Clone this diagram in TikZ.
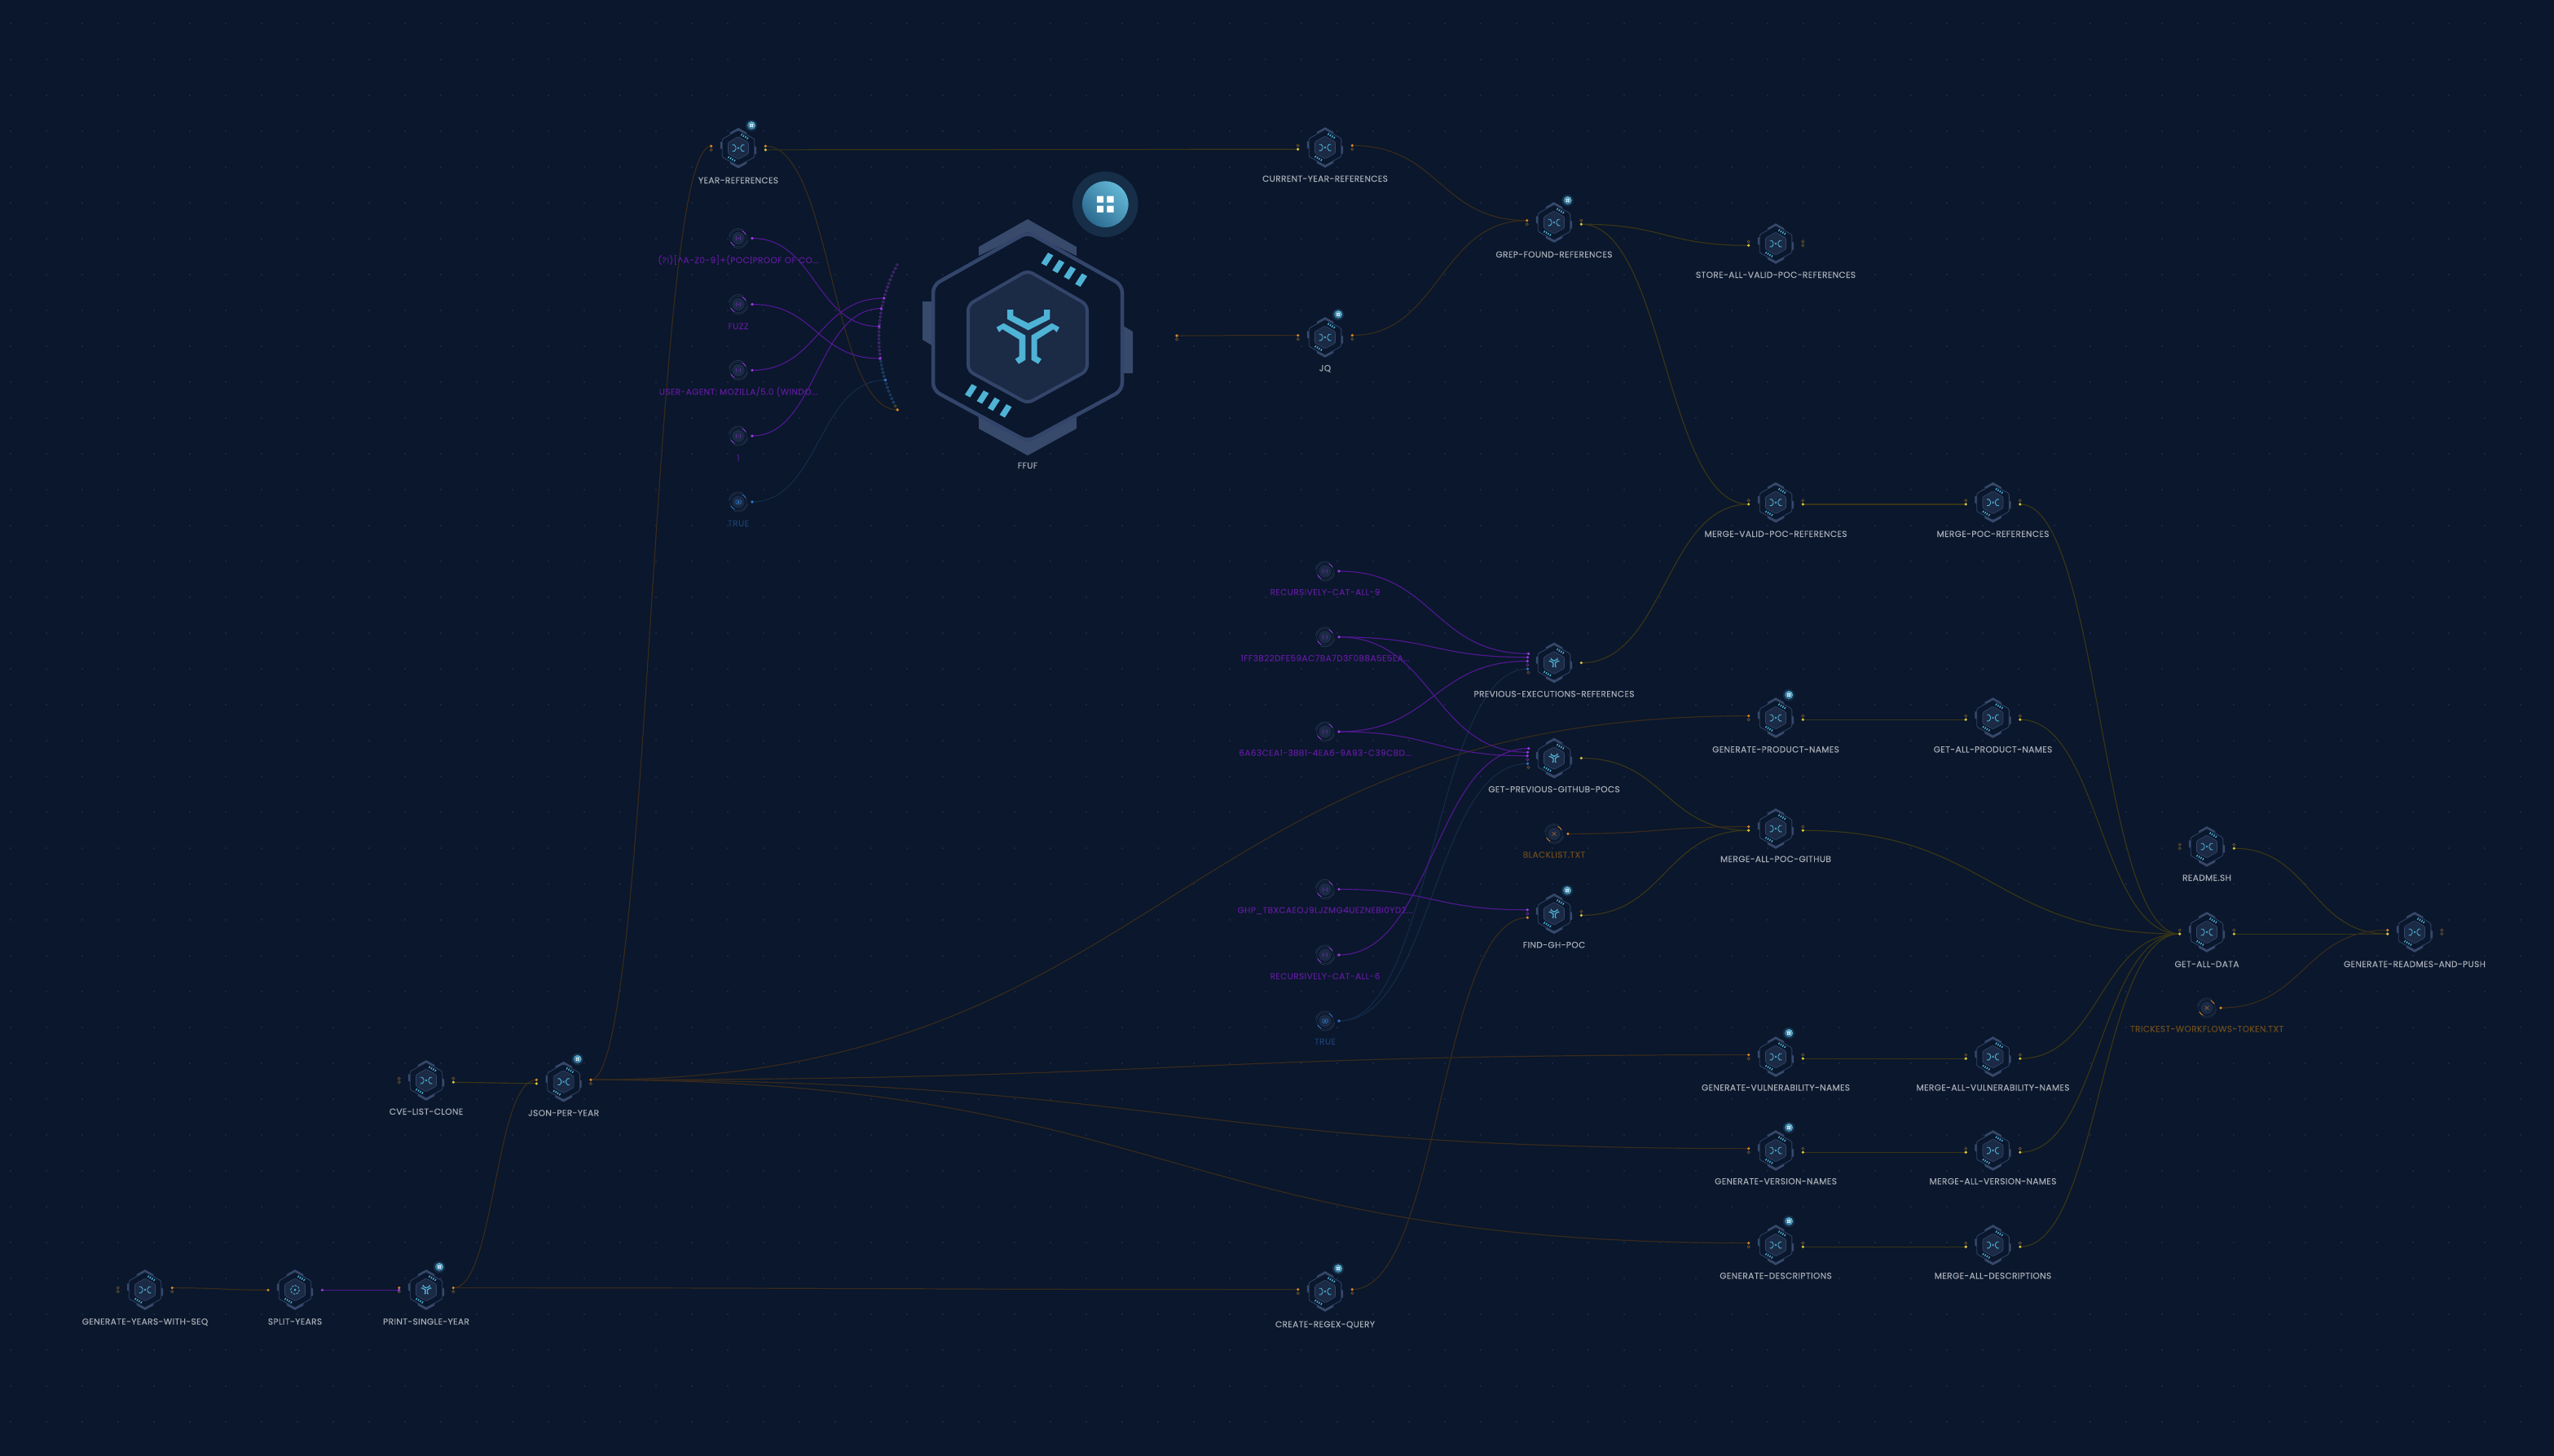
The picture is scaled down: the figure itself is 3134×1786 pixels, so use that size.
\documentclass[tikz,border=0pt]{standalone}
\usepackage{fontspec}
\setmainfont[LetterSpace=3.5,FakeBold=0.12]{Poppins}
\usetikzlibrary{calc}
\pgfdeclarelayer{edges}
\pgfsetlayers{edges,main}
\definecolor{bgc}{HTML}{0A172C}
\definecolor{gridc}{HTML}{1F2E4B}
\definecolor{hexc}{HTML}{33456A}
\definecolor{capc}{HTML}{384A6B}
\definecolor{innerc}{HTML}{1B2A45}
\definecolor{accent}{HTML}{4FB3D6}
\definecolor{edgeO}{HTML}{382A1C}
\definecolor{edgeY}{HTML}{383516}
\definecolor{edgeP}{HTML}{501890}
\definecolor{edgeB}{HTML}{142A47}
\definecolor{pO}{HTML}{D8862A}
\definecolor{pY}{HTML}{D9C53A}
\definecolor{pP}{HTML}{9A3BE0}
\definecolor{pB}{HTML}{2D78C8}
\definecolor{poD}{HTML}{6B5130}
\definecolor{pyD}{HTML}{5E5626}
\definecolor{ppD}{HTML}{5D2F8C}
\definecolor{pbD}{HTML}{24507F}
\definecolor{lblc}{HTML}{A7ACB6}
\definecolor{lblP}{HTML}{5C1A99}
\definecolor{lblB}{HTML}{1C3F6E}
\definecolor{lblO}{HTML}{6B4A1C}
\definecolor{badgeA}{HTML}{62B7D6}
\definecolor{badgeB}{HTML}{2C6A90}
\definecolor{haloc}{HTML}{162E48}
\definecolor{ringc}{HTML}{26354F}
\tikzset{
 eo/.style={draw=edgeO,line width=1.2pt},
 ey/.style={draw=edgeY,line width=1.2pt},
 ep/.style={draw=edgeP,line width=1.15pt},
 eb/.style={draw=edgeB,line width=1.2pt},
 portbase/.style={circle,inner sep=0pt},
 portO/.style={portbase,fill=pO,minimum size=3.6pt},
 portY/.style={portbase,fill=pY,minimum size=3.6pt},
 portP/.style={portbase,fill=pP,minimum size=3.6pt},
 portB/.style={portbase,fill=pB,minimum size=3.6pt},
 porto/.style={portbase,draw=poD,line width=.7pt,minimum size=3.2pt},
 porty/.style={portbase,draw=pyD,line width=.7pt,minimum size=3.2pt},
 portp/.style={portbase,draw=ppD,line width=.7pt,minimum size=3.2pt},
 portb/.style={portbase,draw=pbD,line width=.7pt,minimum size=3.2pt},
 lbl/.style={anchor=base,inner sep=0pt,font=\fontsize{10.6}{12}\selectfont,text=lblc},
 hexhit/.style={circle,inner sep=0pt,minimum size=44pt},
 circhit/.style={circle,inner sep=0pt,minimum size=24pt},
}
\newcommand{\dashq}[2]{\fill[accent,shift={(#1,#2)}] (7.4,-4.8)--(1,-8.2)--(-7.4,4.8)--(-1,8.2)--cycle;}
\newcommand{\hexbody}[5]{\begin{scope}[scale=#1]
 \fill[capc] (-60,-100)--(-60,-111)--(0,-145)--(60,-111)--(60,-100)--(0,-129)--cycle;
 \fill[capc] (-60,98)--(-60,112)--(0,145)--(60,112)--(60,98)--(0,127)--cycle;
 \fill[capc] (114,-16)--(129,-7)--(129,44)--(114,44)--cycle;
 \fill[capc] (-114,-44)--(-129,-44)--(-129,3)--(-114,12)--cycle;
 \draw[hexc,line width=#2,rounded corners=#4,fill=bgc] (0,-129)--(116,-64)--(116,65)--(0,128)--(-116,65)--(-116,-64)--cycle;
 \draw[hexc,line width=#3,rounded corners=#5,fill=innerc] (0,-82)--(73,-40)--(73,41)--(0,81)--(-73,41)--(-73,-40)--cycle;
 \dashq{24}{-95.7}\dashq{37.7}{-87}\dashq{51.7}{-79}\dashq{65.7}{-70.3}
 \dashq{-69.6}{65.5}\dashq{-55}{73.4}\dashq{-41.5}{82}\dashq{-27}{90.3}
\end{scope}}
\newcommand{\iconY}[1]{\begin{scope}[scale=#1]
 \fill[accent] (-25,-34)--(-17.7,-34)--(-17.7,-26.7)--(0.7,-17.3)--(20,-26.7)--(20,-34)--(27.3,-34)--(27.3,-22.3)--(0.7,-8.7)--(-25,-22.3)--cycle;
 \fill[accent] (-38.3,-12.3)--(-29.3,-17.3)--(-2.7,-2.3)--(-2.7,27.7)--(-11,32.7)--(-15.3,26.7)--(-10.3,23.3)--(-10.3,2.7)--(-31,-10)--(-35,-6.3)--cycle;
 \fill[accent] (39,-12.3)--(29.7,-17.3)--(4.7,-2.3)--(4.7,27.7)--(13,32.7)--(17,26.7)--(11.7,23.3)--(11.7,2.7)--(31.7,-10)--(35.7,-6.3)--cycle;
\end{scope}}
\newcommand{\iconX}{%
 \draw[accent,line width=.9pt] (-7.3,-3.8)--(-4.8,-3.8)--(-3,-1.2)--(-3,1.2)--(-4.8,3.8)--(-7.3,3.8);
 \draw[accent,line width=.9pt] (7.3,-3.8)--(4.8,-3.8)--(3,-1.2)--(3,1.2)--(4.8,3.8)--(7.3,3.8);
 \draw[accent,line width=.5pt] (-1.1,-1.1)--(1.1,1.1) (-1.1,1.1)--(1.1,-1.1);}
\newcommand{\iconS}{%
 \draw[accent,line width=.9pt,dash pattern=on 2.6pt off 1.5pt] (0,0) circle (5.4);
 \fill[accent] (0,0) circle (1.5);}
\newcommand{\iconYs}{\iconY{.171}}
\newcommand{\task}[6]{\def\cx{#2}\def\cy{#3}%
 \node[hexhit] (#1) at (#2,#3) {};
 \begin{scope}[shift={(#2,#3)}]
  \hexbody{.171}{.8pt}{.65pt}{1.5pt}{1.2pt}
  #4
 \end{scope}
 \node[lbl] (#1-label) at (#2,#6+4) {#5};}
\newcommand{\tports}[5]{%
 \node[port#2] (#1-lt) at (\cx-33.3,\cy-2.4) {};
 \node[port#3] (#1-lb) at (\cx-33.3,\cy+2.2) {};
 \node[port#4] (#1-rt) at (\cx+33.3,\cy-2.4) {};
 \node[port#5] (#1-rb) at (\cx+33.3,\cy+2.2) {};}
\newcommand{\badge}[3]{\begin{scope}[shift={(#1,#2)},scale=#3]
 \fill[haloc] (0,0) circle (40.3);
 \shade[left color=badgeA,right color=badgeB,shading angle=-45] (0,0) circle (28.3);
 \fill[white] (-10.3,-10) rectangle (-2.3,-2) (2,-10) rectangle (10.3,-2) (-10.3,2) rectangle (-2.3,10) (2,2) rectangle (10.3,10);
\end{scope}}
\newcommand{\smallbadge}[2]{\badge{#1}{#2}{.18}}
\newcommand{\glyphP}{\draw[pP!70!bgc,line width=.6pt] (-2,-2.6) to[bend right=45] (-2,2.6) (2,-2.6) to[bend left=45] (2,2.6) (-1,0)--(1,0);}
\newcommand{\glyphO}{\draw[pO!65!bgc,line width=.7pt] (-2.3,-2.3)--(2.3,2.3) (-2.3,2.3)--(2.3,-2.3);}
\newcommand{\glyphB}{\draw[pB,line width=.6pt,rounded corners=1pt] (-3.2,-2.2) rectangle (3.2,2.2); \draw[pB,line width=.6pt] (0,0) circle (1.1);}
\newcommand{\inode}[8]{%
 \node[circhit] (#1) at (#2,#3) {};
 \begin{scope}[shift={(#2,#3)}]
  \draw[ringc,line width=.7pt] (-60:12) arc[start angle=-60,end angle=-170,radius=12];
  \draw[ringc,line width=.7pt] (120:12) arc[start angle=120,end angle=10,radius=12];
  \draw[ringc,line width=.6pt] (0,0) circle (10.3);
  \fill[innerc] (0,0) circle (7.8);
  \draw[p#4,line width=.9pt] (-28:10.3) arc[start angle=-28,end angle=-62,radius=10.3];
  \draw[p#4,line width=.9pt] (152:10.3) arc[start angle=152,end angle=118,radius=10.3];
  #5
 \end{scope}
 \node[lbl,text=#7] (#1-label) at (#2,#8+4) {#6};
 \node[port#4] (#1-r) at (#2+17,#3) {};}
\newcommand{\edge}[3]{\begin{pgfonlayer}{edges}\draw[#3] let \p1=(#1.center),\p2=(#2.center),\n1={(\x1+\x2)/2} in (\p1) .. controls (\n1,\y1) and (\n1,\y2) .. (\p2);\end{pgfonlayer}}
\begin{document}
\begin{tikzpicture}[x=1pt,y=-1pt]
\useasboundingbox (0,0) rectangle (3134,1786);
\begin{pgfonlayer}{edges}
\fill[bgc] (-3,-3) rectangle (3137,1789);
\fill[gridc] \foreach \i in {0,...,71}{\foreach \j in {0,...,40}{(13+44*\i,29+44*\j) circle (1.1)}};
\end{pgfonlayer}
\node[circle,inner sep=0pt,minimum size=260pt] (ffuf) at (1261,414) {};
\begin{scope}[shift={(1261,414)}]
 \hexbody{1}{4.5pt}{4pt}{9pt}{7pt}
 \iconY{1}
\end{scope}
\node[lbl] (ffuf-label) at (1261,575) {FFUF};
\badge{1356.3}{250.7}{1}
\foreach \i in {0,...,39}{
 \pgfmathsetmacro{\py}{325+\i*4.56}
 \pgfmathsetmacro{\px}{1265.5-187*sqrt(1-((\py-414)/187)^2)}
 \ifnum\i<26 \def\ringcol{ppD}\else\ifnum\i<38 \def\ringcol{pbD}\else\def\ringcol{poD}\fi\fi
 \draw[\ringcol,line width=.6pt] (\px,\py) circle (1.5);
}
\node[portP] (ffuf-a) at (1084.8,366) {};
\node[portP] (ffuf-b) at (1081.3,378.6) {};
\node[portP] (ffuf-c) at (1078.8,400.7) {};
\node[portP] (ffuf-d) at (1080,440) {};
\node[portB] (ffuf-e) at (1086.6,466.4) {};
\node[portO] (ffuf-f) at (1101.4,503) {};
\node[portO] (ffuf-r) at (1444,412) {};
\node[porto] at (1444,416.5) {};
\task{year}{906}{181.7}{\iconX}{YEAR-REFERENCES}{221}\tports{year}{O}{o}{O}{Y}
\smallbadge{922}{154}
\task{cur}{1626}{181}{\iconX}{CURRENT-YEAR-REFERENCES}{219}\tports{cur}{o}{Y}{O}{y}
\task{jq}{1626}{414}{\iconX}{JQ}{451.5}\tports{jq}{O}{o}{O}{y}
\smallbadge{1642}{386}
\task{grep}{1907}{273}{\iconX}{GREP-FOUND-REFERENCES}{312}\tports{grep}{O}{y}{o}{Y}
\smallbadge{1923.5}{246}
\task{store}{2179}{299}{\iconX}{STORE-ALL-VALID-POC-REFERENCES}{337}\tports{store}{o}{Y}{o}{y}
\task{mvp}{2179}{616.7}{\iconX}{MERGE-VALID-POC-REFERENCES}{655}\tports{mvp}{o}{Y}{o}{Y}
\task{mpr}{2445.5}{616.7}{\iconX}{MERGE-POC-REFERENCES}{655}\tports{mpr}{o}{Y}{o}{Y}
\task{prev}{1907}{813.4}{\iconYs}{PREVIOUS-EXECUTIONS-REFERENCES}{851.4}
\task{gpoc}{1907}{930.5}{\iconYs}{GET-PREVIOUS-GITHUB-POCS}{968.4}
\task{fgh}{1907}{1121.4}{\iconYs}{FIND-GH-POC}{1159.4}
\smallbadge{1923}{1093}
\task{gpn}{2179}{881}{\iconX}{GENERATE-PRODUCT-NAMES}{919.5}\tports{gpn}{O}{o}{o}{Y}
\smallbadge{2195}{853}
\task{gap}{2445.5}{881}{\iconX}{GET-ALL-PRODUCT-NAMES}{919.5}\tports{gap}{o}{Y}{o}{Y}
\task{mapg}{2179}{1017}{\iconX}{MERGE-ALL-POC-GITHUB}{1054}\tports{mapg}{O}{Y}{o}{Y}
\task{readme}{2708}{1039}{\iconX}{README.SH}{1077}\tports{readme}{o}{y}{o}{Y}
\task{gad}{2708}{1144}{\iconX}{GET-ALL-DATA}{1183}\tports{gad}{o}{Y}{o}{Y}
\task{grp}{2963}{1144}{\iconX}{GENERATE-READMES-AND-PUSH}{1183}\tports{grp}{O}{Y}{o}{y}
\task{gvn}{2179}{1297}{\iconX}{GENERATE-VULNERABILITY-NAMES}{1334.5}\tports{gvn}{O}{o}{o}{Y}
\smallbadge{2195}{1268}
\task{mvn}{2445.5}{1297}{\iconX}{MERGE-ALL-VULNERABILITY-NAMES}{1334.5}\tports{mvn}{o}{Y}{o}{Y}
\task{gvr}{2179}{1412}{\iconX}{GENERATE-VERSION-NAMES}{1449.5}\tports{gvr}{O}{o}{o}{Y}
\smallbadge{2195}{1384}
\task{mvr}{2445.5}{1412}{\iconX}{MERGE-ALL-VERSION-NAMES}{1449.5}\tports{mvr}{o}{Y}{o}{Y}
\task{gds}{2179}{1528}{\iconX}{GENERATE-DESCRIPTIONS}{1565.5}\tports{gds}{O}{o}{o}{Y}
\smallbadge{2195}{1499}
\task{mds}{2445.5}{1528}{\iconX}{MERGE-ALL-DESCRIPTIONS}{1565.5}\tports{mds}{o}{Y}{o}{Y}
\task{crx}{1626}{1585}{\iconX}{CREATE-REGEX-QUERY}{1625}\tports{crx}{O}{y}{O}{o}
\smallbadge{1642}{1557}
\task{cve}{523}{1326}{\iconX}{CVE-LIST-CLONE}{1364}\tports{cve}{o}{y}{o}{Y}
\task{json}{691.6}{1327.7}{\iconX}{JSON-PER-YEAR}{1365.7}\tports{json}{O}{Y}{O}{o}
\smallbadge{708.6}{1300}
\task{gys}{178}{1583}{\iconX}{GENERATE-YEARS-WITH-SEQ}{1621.7}\tports{gys}{o}{y}{O}{o}
\task{spl}{362}{1583}{\iconS}{SPLIT-YEARS}{1621.7}
\task{prt}{523}{1583}{\iconYs}{PRINT-SINGLE-YEAR}{1621.7}\tports{prt}{O}{o}{O}{o}
\smallbadge{539}{1555}
\node[portO] (spl-l) at (329,1583.3) {};
\node[portP] (spl-r) at (395.4,1583.3) {};
\node[portP] (prt-l) at (489.6,1583.3) {};
\node[portP] (prev-a) at (1875.7,802.3) {};
\node[portP] (prev-b) at (1874.6,806.7) {};
\node[portP] (prev-c) at (1874.3,811.4) {};
\node[portp] at (1874.4,816.2) {};
\node[portB] (prev-d) at (1874.6,821) {};
\node[porto] at (1875.4,825.4) {};
\node[portY] (prev-r) at (1940.4,813.5) {};
\node[portP] (gpoc-a) at (1875.7,918.6) {};
\node[portP] (gpoc-b) at (1874.6,923.3) {};
\node[portP] (gpoc-c) at (1874.2,927.7) {};
\node[portp] at (1874.4,932.4) {};
\node[portB] (gpoc-d) at (1874.6,937.2) {};
\node[porto] at (1875.4,941.8) {};
\node[portY] (gpoc-r) at (1940.4,930.5) {};
\node[portP] (fgh-a) at (1874.3,1116.7) {};
\node[portp] at (1874.3,1121.4) {};
\node[portO] (fgh-b) at (1874.3,1126.2) {};
\node[porto] at (1940.4,1118.7) {};
\node[portY] (fgh-r) at (1940.4,1123.4) {};
\inode{i1}{906}{292.5}{P}{\glyphP}{(?I)[\textasciicircum A-Z0-9]+(POC|PROOF OF CO...}{lblP}{319}
\inode{i2}{906}{373.5}{P}{\glyphP}{FUZZ}{lblP}{400}
\inode{i3}{906}{454.4}{P}{\glyphP}{USER-AGENT: MOZILLA/5.0 (WINDO...}{lblP}{480.6}
\inode{i4}{906}{535}{P}{\glyphP}{1}{lblP}{561.5}
\inode{i5}{906}{616}{B}{\glyphB}{TRUE}{lblB}{642}
\inode{r9}{1626}{701}{P}{\glyphP}{RECURSIVELY-CAT-ALL-9}{lblP}{726.4}
\inode{f1}{1626}{781.8}{P}{\glyphP}{1FF3B22DFE59AC7BA7D3F0B8A5E5EA...}{lblP}{807.5}
\inode{a6}{1626}{898}{P}{\glyphP}{6A63CEA1-3BB1-4EA6-9A93-C39CBD...}{lblP}{923.7}
\inode{ghp}{1626}{1091.4}{P}{\glyphP}{GHP\_TBXCAEOJ9LJZMG4UEZNEBI0YD2...}{lblP}{1116.7}
\inode{r6}{1626}{1172}{P}{\glyphP}{RECURSIVELY-CAT-ALL-6}{lblP}{1197.8}
\inode{t2}{1626}{1253}{B}{\glyphB}{TRUE}{lblB}{1278}
\inode{blk}{1907}{1023.4}{O}{\glyphO}{BLACKLIST.TXT}{lblO}{1048.7}
\inode{trk}{2708}{1237}{O}{\glyphO}{TRICKEST-WORKFLOWS-TOKEN.TXT}{lblO}{1262.5}
\edge{gys-rt}{spl-l}{eo}
\edge{spl-r}{prt-l}{ep}
\edge{prt-rt}{json-lt}{eo}
\edge{prt-rt}{crx-lt}{eo}
\edge{cve-rb}{json-lb}{ey}
\edge{json-rt}{year-lt}{eo}
\edge{json-rt}{gpn-lt}{eo}
\edge{json-rt}{gvn-lt}{eo}
\edge{json-rt}{gvr-lt}{eo}
\edge{json-rt}{gds-lt}{eo}
\edge{year-rb}{cur-lb}{ey}
\edge{year-rt}{ffuf-f}{eo}
\edge{cur-rt}{grep-lt}{eo}
\edge{jq-rt}{grep-lt}{eo}
\edge{ffuf-r}{jq-lt}{eo}
\edge{grep-rb}{store-lb}{ey}
\edge{grep-rb}{mvp-lb}{ey}
\edge{prev-r}{mvp-lb}{ey}
\edge{mvp-rb}{mpr-lb}{ey}
\edge{mpr-rb}{gad-lb}{ey}
\edge{gpn-rb}{gap-lb}{ey}
\edge{gap-rb}{gad-lb}{ey}
\edge{gvn-rb}{mvn-lb}{ey}
\edge{mvn-rb}{gad-lb}{ey}
\edge{gvr-rb}{mvr-lb}{ey}
\edge{mvr-rb}{gad-lb}{ey}
\edge{gds-rb}{mds-lb}{ey}
\edge{mds-rb}{gad-lb}{ey}
\edge{gpoc-r}{mapg-lb}{ey}
\edge{fgh-r}{mapg-lb}{ey}
\edge{blk-r}{mapg-lt}{eo}
\edge{mapg-rb}{gad-lb}{ey}
\edge{crx-rt}{fgh-b}{eo}
\edge{readme-rb}{grp-lb}{ey}
\edge{gad-rb}{grp-lb}{ey}
\edge{trk-r}{grp-lt}{eo}
\edge{i1-r}{ffuf-c}{ep}
\edge{i2-r}{ffuf-d}{ep}
\edge{i3-r}{ffuf-a}{ep}
\edge{i4-r}{ffuf-b}{ep}
\edge{i5-r}{ffuf-e}{eb}
\edge{r9-r}{prev-a}{ep}
\edge{f1-r}{prev-b}{ep}
\edge{a6-r}{prev-c}{ep}
\edge{t2-r}{prev-d}{eb}
\edge{r6-r}{gpoc-a}{ep}
\edge{f1-r}{gpoc-b}{ep}
\edge{a6-r}{gpoc-c}{ep}
\edge{t2-r}{gpoc-d}{eb}
\edge{ghp-r}{fgh-a}{ep}
\end{tikzpicture}
\end{document}
